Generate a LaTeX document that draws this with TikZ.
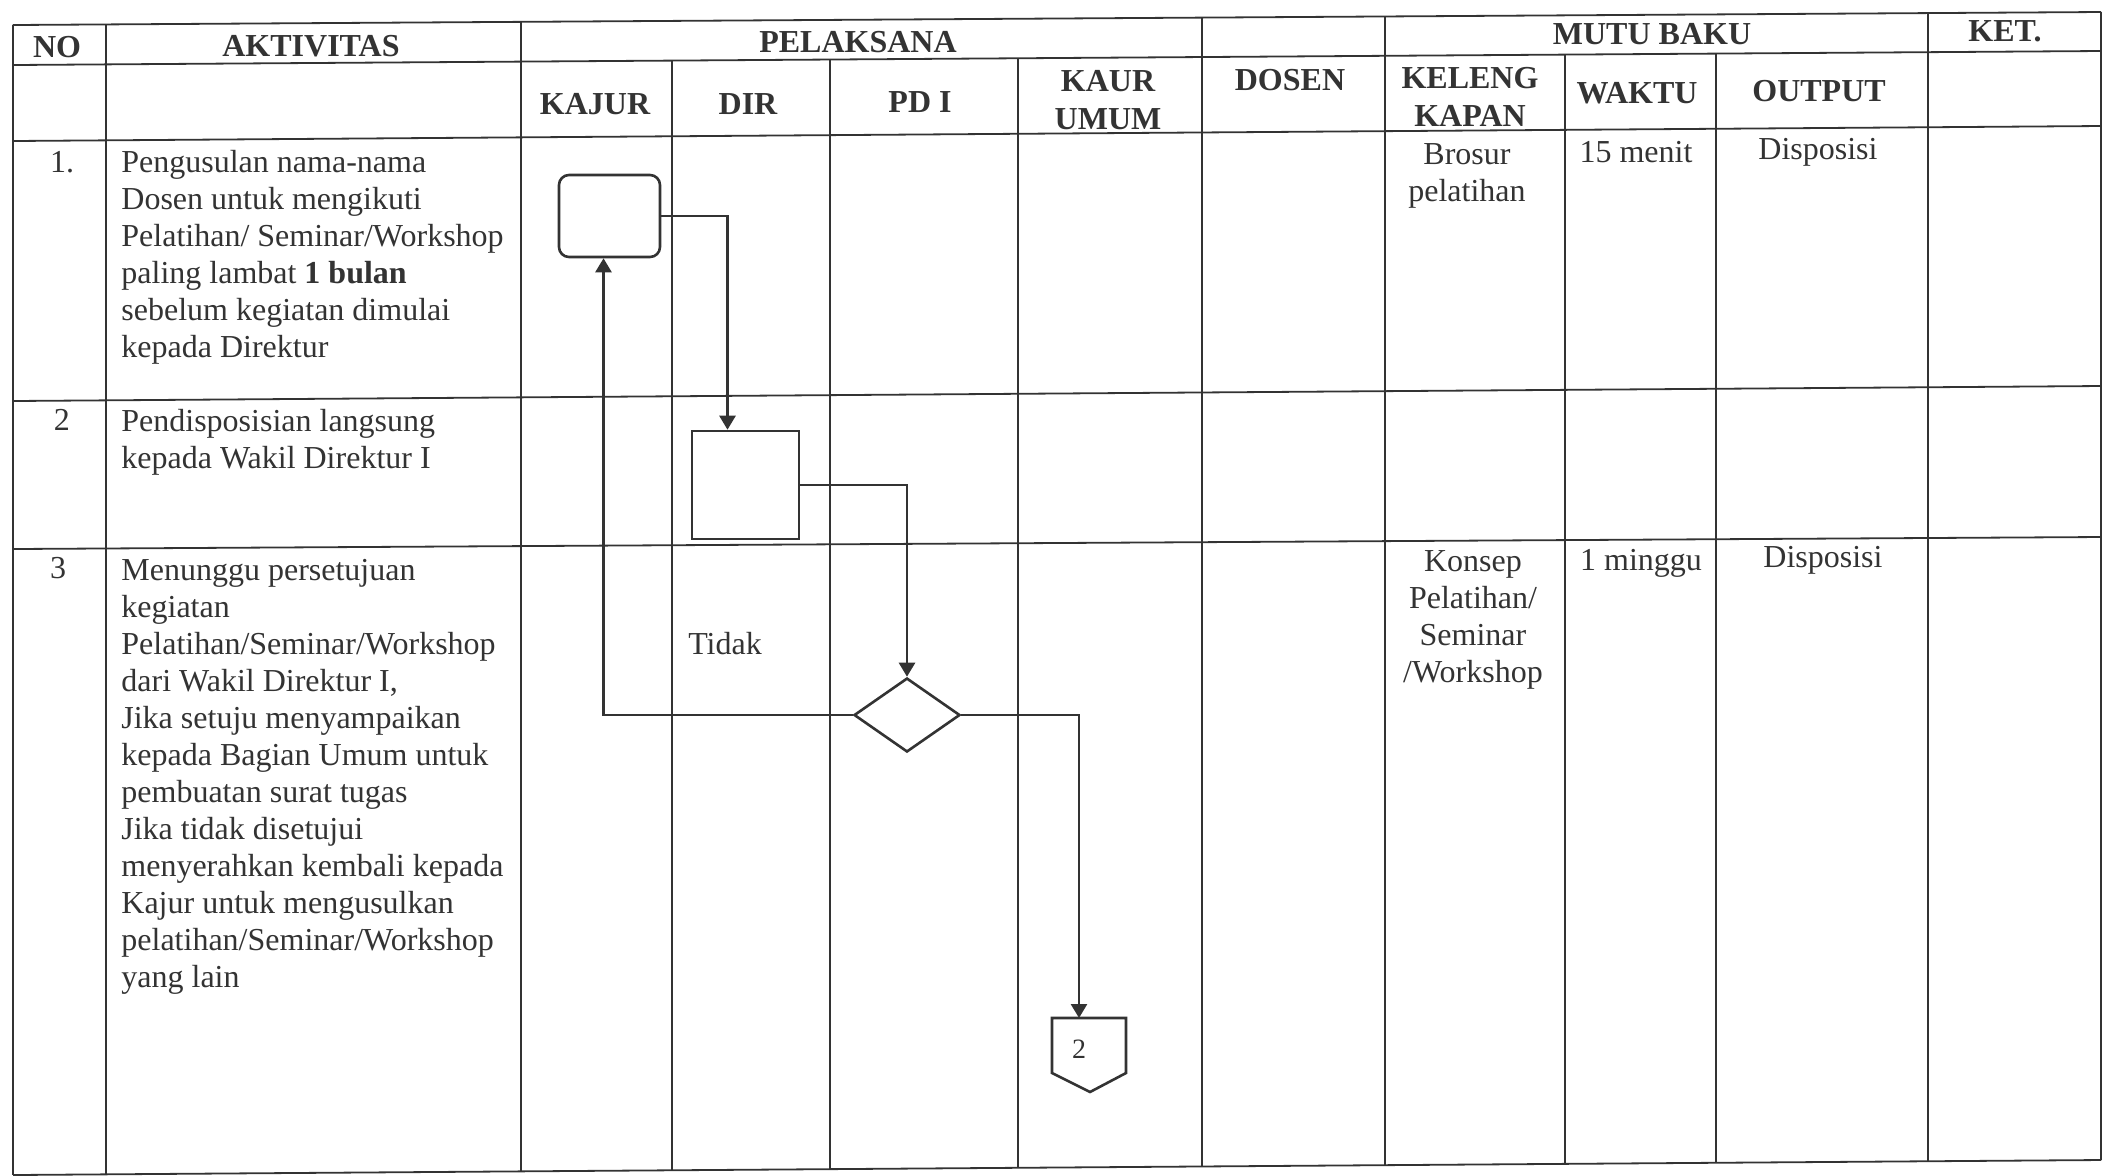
\documentclass[tikz,border=0pt]{standalone}
\usepackage{fontspec}
\setmainfont{Liberation Serif}
\usetikzlibrary{arrows.meta,shapes.geometric}
\definecolor{ink}{HTML}{333333}
\begin{document}
\begin{tikzpicture}[x=0.5pt,y=-0.5pt,
  grid/.style={draw=ink,line width=0.9pt},
  flow/.style={draw=ink,line width=1.3pt},
  arr/.style={flow,-{Triangle[length=7pt,width=8pt]}},
  hd/.style={font=\fontsize{16}{18.8}\selectfont\bfseries,text=ink,inner sep=0pt,align=center},
  body/.style={font=\fontsize{16}{18.5}\selectfont,text=ink,inner sep=0pt,align=left,anchor=north west},
  ctr/.style={font=\fontsize{16}{18.5}\selectfont,text=ink,inner sep=0pt,align=center},
  one/.style={font=\fontsize{16}{18.5}\selectfont,text=ink,inner sep=0pt,anchor=base},
]
\path[use as bounding box] (0,0) rectangle (2108,1175);

% ---- table grid (scan is slightly slanted) ----
\foreach \yl/\yr in {25/12,65/51,141/126,401/386,549/537,1175/1160}
  \draw[grid] (13,\yl) -- (2101,\yr);
\begin{scope}
  \clip (0,25) -- (2108,12) -- (2108,1160) -- (0,1175) -- cycle;
  \foreach \x in {13,106,521,1202,1385,1928,2101} \draw[grid] (\x,0) -- (\x,1175);
\end{scope}
\begin{scope}
  \clip (0,65) -- (2108,51) -- (2108,1160) -- (0,1175) -- cycle;
  \foreach \x in {672,830,1018,1565,1716} \draw[grid] (\x,0) -- (\x,1175);
\end{scope}

% ---- header ----
\node[hd] (hNo) at (57,47) {NO};
\node[hd] (hAkt) at (311,46) {AKTIVITAS};
\node[hd] (hPel) at (858,42) {PELAKSANA};
\node[hd] (hMutu) at (1652,34) {MUTU BAKU};
\node[hd] (hKet) at (2005,31) {KET.};
\node[hd] (hKajur) at (595,104) {KAJUR};
\node[hd] (hDir) at (748,104) {DIR};
\node[hd] (hPd) at (920,102) {PD I};
\node[hd] (hKaur) at (1108,100) {KAUR\\UMUM};
\node[hd] (hDosen) at (1290,80) {DOSEN};
\node[hd] (hKel) at (1470,97) {KELENG\\KAPAN};
\node[hd] (hWaktu) at (1637,93) {WAKTU};
\node[hd] (hOut) at (1819,91) {OUTPUT};

% ---- row numbers ----
\node[one] (no1) at (62,172) {1.};
\node[one] (no2) at (62,430) {2};
\node[one] (no3) at (58,578) {3};

% ---- activities ----
\node[body] (a1) at (121,150) {Pengusulan nama-nama\\Dosen untuk mengikuti\\Pelatihan/ Seminar/Workshop\\paling lambat \textbf{1 bulan}\\sebelum kegiatan dimulai\\kepada Direktur};
\node[body] (a2) at (121,409) {Pendisposisian langsung\\kepada Wakil Direktur I};
\node[body] (a3) at (121,559) {Menunggu persetujuan\\kegiatan\\Pelatihan/Seminar/Workshop\\dari Wakil Direktur I,\\Jika setuju menyampaikan\\kepada Bagian Umum untuk\\pembuatan surat tugas\\Jika tidak disetujui\\menyerahkan kembali kepada\\Kajur untuk mengusulkan\\pelatihan/Seminar/Workshop\\yang lain};

% ---- mutu baku ----
\node[ctr,anchor=north] (k1) at (1467,143) {Brosur\\pelatihan};
\node[one] (w1) at (1636,162) {15 menit};
\node[one] (o1) at (1818,159) {Disposisi};
\node[ctr,anchor=north] (k3) at (1473,550) {Konsep\\Pelatihan/\\Seminar\\/Workshop};
\node[one] (w3) at (1641,570) {1 minggu};
\node[one] (o3) at (1823,567) {Disposisi};

% ---- flowchart ----
\node[flow,rounded corners=5pt,minimum width=50.5pt,minimum height=41pt,inner sep=0pt] (n1) at (609.5,216) {};
\node[flow,minimum width=53.5pt,minimum height=54pt,inner sep=0pt] (n2) at (745.5,485) {};
\node[flow,diamond,minimum width=53pt,minimum height=37pt,inner sep=0pt] (d) at (907,715) {};
\node[one] (tidak) at (725,654) {Tidak};

\draw[flow] (1052,1018) -- (1126,1018) -- (1126,1073) -- (1090,1092) -- (1052,1073) -- cycle;
\node[font=\fontsize{14}{16}\selectfont,text=ink,inner sep=0pt] (c2) at (1079,1049) {2};
\coordinate (c2in) at (1079,1018);

\draw[arr] (n1.east) -| ([xshift=-9pt]n2.north);
\draw[arr] (n2.east) -| (d.north);
\draw[arr] (d.west) -| ([xshift=-3pt]n1.south);
\draw[arr] (d.east) -| (c2in);
\end{tikzpicture}
\end{document}
